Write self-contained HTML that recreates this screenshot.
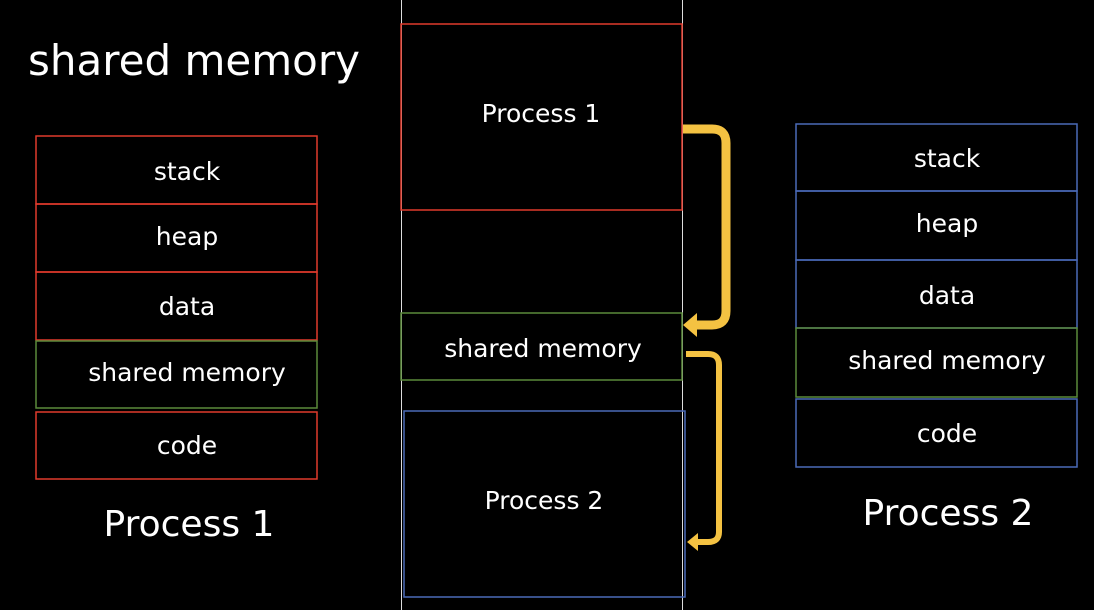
<!DOCTYPE html>
<html><head><style>
html,body{margin:0;padding:0;background:#000;}
svg{display:block}
text{font-family:"DejaVu Sans","Liberation Sans",sans-serif;fill:#fff;text-anchor:middle;}
</style></head><body>
<svg width="1094" height="610" viewBox="0 0 1094 610">
<rect width="1094" height="610" fill="#000"/>
<line x1="401.5" y1="0" x2="401.5" y2="610" stroke="#ddd" stroke-width="1"/>
<line x1="682.5" y1="0" x2="682.5" y2="610" stroke="#ddd" stroke-width="1"/>
<text x="194" y="75" font-size="42">shared memory</text>
<g fill="none" stroke-width="1.5">
<rect x="36" y="136" width="281" height="68" stroke="#e03a2c"/>
<rect x="36" y="204" width="281" height="68" stroke="#e03a2c"/>
<rect x="36" y="272" width="281" height="68" stroke="#e03a2c"/>
<rect x="36" y="341" width="281" height="67" stroke="#5a8a3a"/>
<rect x="36" y="412" width="281" height="67" stroke="#e03a2c"/>
<rect x="796" y="124" width="281" height="67" stroke="#4a6ab8"/>
<rect x="796" y="191" width="281" height="69" stroke="#4a6ab8"/>
<rect x="796" y="260" width="281" height="68" stroke="#4a6ab8"/>
<rect x="796" y="328" width="281" height="69" stroke="#5a8a3a"/>
<rect x="796" y="399" width="281" height="68" stroke="#4a6ab8"/>
<rect x="401" y="24" width="281" height="186" stroke="#e03a2c"/>
<rect x="401" y="313" width="281" height="67" stroke="#5a8a3a"/>
<rect x="404" y="411" width="281" height="186" stroke="#4a6ab8"/>
</g>
<g font-size="25">
<text x="187" y="180">stack</text>
<text x="187" y="245">heap</text>
<text x="187" y="315">data</text>
<text x="187" y="381">shared memory</text>
<text x="187" y="454">code</text>
<text x="947" y="167">stack</text>
<text x="947" y="232">heap</text>
<text x="947" y="304">data</text>
<text x="947" y="369">shared memory</text>
<text x="947" y="442">code</text>
<text x="541" y="122">Process 1</text>
<text x="543" y="357">shared memory</text>
<text x="544" y="509">Process 2</text>
</g>
<text x="189" y="536" font-size="36">Process 1</text>
<text x="948" y="525" font-size="36">Process 2</text>
<path d="M683 129 H712 Q726 129 726 143 V311 Q726 325 712 325 H694" fill="none" stroke="#f4c242" stroke-width="9" stroke-linejoin="round"/>
<polygon points="683,325 697,313 697,337" fill="#f4c242"/>
<path d="M686 354 H708 Q719 354 719 365 V532 Q719 542 708 542 H697" fill="none" stroke="#f4c242" stroke-width="6"/>
<polygon points="687,542 698,533 698,551" fill="#f4c242"/>
</svg>
</body></html>
